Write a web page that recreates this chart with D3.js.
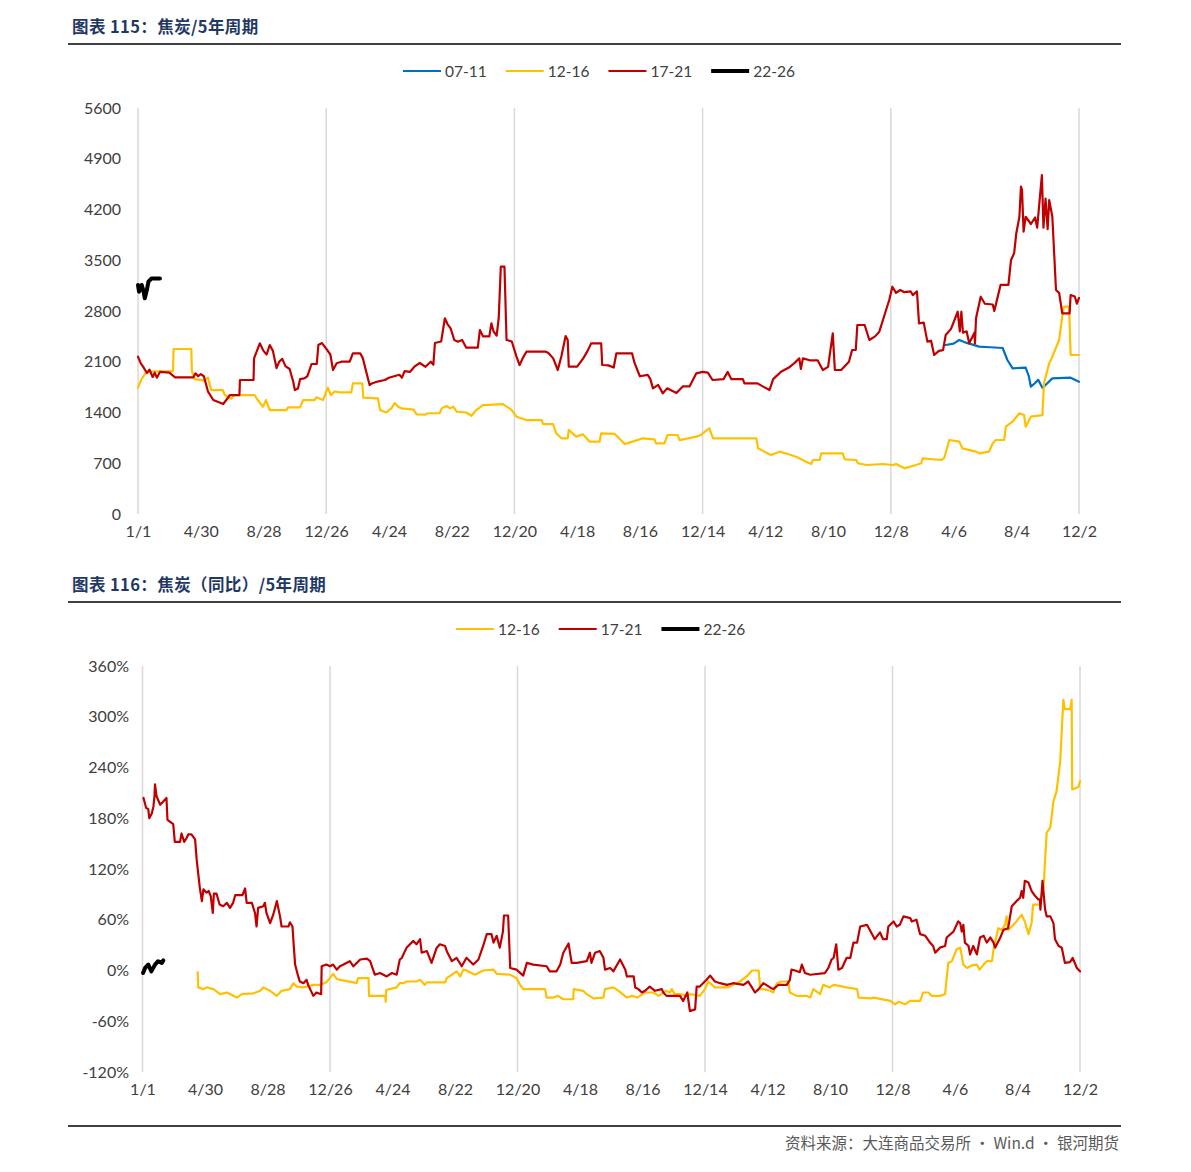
<!DOCTYPE html>
<html><head><meta charset="utf-8">
<script src="https://cdn.jsdelivr.net/npm/d3@7/dist/d3.min.js"></script>
<style>
html,body{margin:0;padding:0;background:#fff;}
svg{display:block;}
</style></head>
<body><svg id="chart" width="1191" height="1172"></svg>
<script>
// ---------- DATA ----------
const xTickDays = [0,120,240,360,480,600,720,840,960,1080,1200,1320,1440,1560,1680,1800];
const xTickLabels = ["1/1","4/30","8/28","12/26","4/24","8/22","12/20","4/18","8/16","12/14","4/12","8/10","12/8","4/6","8/4","12/2"];
const yearGridDays = [0,360,720,1080,1440,1800];
const priceTicks = [0,700,1400,2100,2800,3500,4200,4900,5600];
const yoyTicks = [-120,-60,0,60,120,180,240,300,360];

// Chart 115: coke price, [day, value]
const price0711 = [[1545,2331],[1560,2350],[1571,2400],[1585,2360],[1595,2340],[1609,2308],[1630,2300],[1654,2290],[1663,2124],[1673,2009],[1698,2020],[1704,1900],[1708,1756],[1715,1800],[1722,1850],[1730,1740],[1736,1779],[1749,1871],[1784,1880],[1790,1860],[1800,1825]];
const price1216 = [[0,1742],[6,1848],[16,1963],[67,1970],[68,2276],[102,2276],[103,1972],[108,1860],[127,1840],[134,1880],[140,1710],[162,1710],[166,1641],[178,1590],[185,1641],[223,1641],[229,1572],[239,1480],[245,1572],[252,1434],[284,1434],[287,1470],[310,1470],[316,1572],[338,1572],[341,1610],[354,1572],[363,1742],[369,1641],[376,1690],[385,1678],[408,1678],[411,1802],[429,1802],[431,1604],[459,1595],[463,1434],[475,1400],[485,1460],[491,1530],[498,1480],[504,1457],[527,1440],[533,1375],[549,1370],[555,1390],[577,1390],[581,1457],[590,1490],[597,1457],[603,1480],[610,1410],[628,1400],[638,1355],[647,1434],[660,1503],[698,1515],[714,1440],[724,1342],[743,1296],[772,1296],[775,1240],[794,1240],[800,1113],[810,1044],[822,1044],[824,1160],[838,1067],[851,1100],[864,997],[883,997],[886,1113],[912,1104],[931,966],[940,985],[966,1044],[988,1030],[991,975],[1007,975],[1013,1090],[1032,1090],[1036,1020],[1068,1067],[1077,1090],[1087,1149],[1093,1182],[1100,1044],[1183,1044],[1186,906],[1198,860],[1211,814],[1227,860],[1243,828],[1259,790],[1278,722],[1288,690],[1291,745],[1304,745],[1307,837],[1348,837],[1352,754],[1374,745],[1377,700],[1393,676],[1425,690],[1444,676],[1450,690],[1466,630],[1488,676],[1498,699],[1501,768],[1536,745],[1542,768],[1552,1021],[1571,998],[1577,906],[1603,860],[1609,837],[1628,860],[1635,975],[1641,1021],[1657,1021],[1660,1204],[1673,1273],[1686,1389],[1695,1365],[1698,1204],[1708,1342],[1730,1365],[1733,1802],[1743,2078],[1749,2170],[1762,2400],[1768,2722],[1771,2860],[1781,2860],[1784,2193],[1800,2193]];
const price1721 = [[0,2170],[5,2080],[10,2030],[17,1945],[22,1990],[28,1890],[32,1950],[36,1880],[42,1960],[60,1950],[71,1885],[106,1885],[110,1940],[115,1900],[120,1930],[126,1900],[134,1687],[144,1572],[163,1517],[176,1641],[194,1641],[195,1848],[221,1848],[222,2147],[233,2354],[240,2250],[246,2200],[252,2330],[258,2250],[265,2013],[270,2100],[276,2140],[282,2040],[290,2000],[297,1825],[300,1710],[306,1730],[310,1860],[318,1870],[324,1900],[332,2069],[342,2069],[345,2331],[352,2358],[360,2280],[368,2200],[373,1986],[380,2080],[389,2101],[405,2101],[411,2216],[425,2216],[430,2150],[443,1779],[447,1800],[460,1830],[472,1848],[480,1880],[490,1900],[500,1920],[505,1880],[510,1970],[520,1960],[530,2040],[539,2083],[550,2030],[560,2100],[565,2060],[568,2358],[580,2380],[587,2700],[592,2620],[598,2560],[605,2400],[612,2377],[620,2400],[628,2294],[650,2294],[654,2538],[660,2450],[672,2450],[676,2630],[680,2520],[686,2460],[690,2700],[694,3411],[701,3411],[705,2400],[715,2380],[724,2170],[730,2055],[736,2150],[743,2239],[780,2239],[785,2220],[794,2150],[803,1986],[810,2180],[818,2455],[822,2400],[824,2032],[840,2032],[852,2150],[860,2250],[867,2354],[886,2354],[888,2055],[900,2050],[910,2020],[915,2216],[945,2216],[950,2080],[960,1900],[975,1920],[980,1860],[985,1733],[995,1780],[1004,1664],[1012,1733],[1030,1670],[1042,1760],[1055,1760],[1068,1940],[1080,1960],[1090,1950],[1099,1848],[1120,1860],[1128,1960],[1135,1860],[1157,1860],[1160,1802],[1185,1802],[1195,1760],[1208,1710],[1215,1860],[1230,1963],[1245,2020],[1255,2078],[1265,2147],[1268,2000],[1272,2147],[1285,2120],[1300,2120],[1310,1986],[1320,2030],[1329,2492],[1333,1986],[1345,1986],[1360,2100],[1366,2262],[1373,2262],[1376,2607],[1390,2607],[1399,2400],[1410,2450],[1418,2515],[1431,2814],[1437,2952],[1443,3135],[1450,3050],[1458,3090],[1466,3060],[1478,3070],[1482,3020],[1490,3070],[1494,2630],[1503,2640],[1510,2377],[1517,2390],[1523,2193],[1532,2250],[1540,2260],[1545,2469],[1555,2550],[1568,2790],[1572,2520],[1575,2790],[1578,2500],[1585,2520],[1590,2354],[1600,2500],[1601,2354],[1603,2700],[1612,2997],[1620,2900],[1635,2890],[1638,2800],[1643,2950],[1650,3159],[1665,3159],[1670,3504],[1676,3600],[1680,3870],[1686,4100],[1689,4515],[1691,4470],[1694,3895],[1698,4100],[1708,4000],[1716,4090],[1720,3950],[1729,4676],[1732,3950],[1736,4350],[1740,3930],[1743,4330],[1749,4100],[1756,3090],[1762,3050],[1768,2768],[1782,2768],[1784,3021],[1792,3000],[1796,2900],[1800,2980]];
const price2226 = [[0,3159],[2,3066],[7,3159],[10,3090],[13,2975],[17,3090],[20,3204],[26,3250],[42,3250]];

// Chart 116: coke YoY %, [day, value]
const yoy1216 = [[106,-2],[107,-20],[117,-22],[123,-20],[136,-22],[149,-28],[162,-26],[181,-32],[191,-28],[213,-27],[226,-24],[232,-20],[245,-24],[258,-30],[267,-24],[283,-22],[290,-15],[296,-19],[309,-20],[328,-17],[341,-17],[353,-14],[366,-4],[373,-10],[379,-11],[405,-14],[411,-15],[414,-9],[434,-9],[435,-30],[466,-30],[467,-37],[468,-23],[488,-20],[494,-15],[501,-15],[507,-13],[526,-13],[533,-11],[542,-17],[546,-14],[581,-14],[584,-9],[594,-5],[603,-1],[610,-7],[616,1],[622,0],[638,-5],[654,0],[674,1],[680,-4],[706,-5],[718,-9],[725,-17],[731,-22],[773,-22],[776,-32],[789,-32],[798,-30],[808,-34],[827,-34],[828,-22],[846,-24],[853,-28],[866,-33],[885,-32],[888,-22],[904,-20],[914,-24],[930,-32],[940,-30],[950,-32],[965,-26],[981,-26],[991,-30],[1004,-24],[1013,-26],[1016,-22],[1022,-28],[1032,-28],[1045,-30],[1051,-28],[1070,-30],[1080,-22],[1086,-13],[1099,-20],[1124,-20],[1134,-17],[1147,-13],[1160,-7],[1170,0],[1183,0],[1186,-22],[1192,-22],[1205,-24],[1211,-26],[1218,-15],[1227,-13],[1240,-13],[1243,-26],[1256,-30],[1275,-30],[1282,-32],[1288,-22],[1301,-28],[1307,-17],[1320,-20],[1327,-17],[1352,-20],[1372,-22],[1375,-32],[1398,-33],[1404,-32],[1436,-36],[1445,-40],[1452,-37],[1464,-40],[1474,-36],[1493,-36],[1499,-26],[1509,-26],[1515,-30],[1531,-30],[1541,-28],[1547,9],[1554,11],[1563,25],[1570,27],[1576,7],[1583,3],[1592,6],[1602,7],[1607,1],[1615,7],[1621,11],[1631,11],[1634,25],[1643,50],[1650,48],[1656,54],[1659,64],[1662,48],[1669,52],[1678,58],[1688,66],[1694,58],[1701,43],[1707,56],[1710,78],[1723,78],[1730,98],[1736,163],[1743,169],[1749,200],[1755,212],[1762,247],[1768,320],[1771,309],[1781,309],[1784,320],[1785,214],[1797,217],[1800,224]];
const yoy1721 = [[2,204],[7,192],[11,191],[13,180],[18,186],[21,194],[23,206],[24,220],[27,206],[34,196],[46,204],[48,178],[59,173],[62,152],[72,152],[75,162],[80,152],[85,157],[88,161],[94,161],[101,155],[104,131],[110,98],[114,82],[117,96],[123,92],[127,94],[131,88],[135,68],[137,91],[142,91],[148,78],[155,76],[162,80],[168,74],[174,80],[178,89],[192,89],[197,97],[200,80],[210,80],[216,68],[219,52],[222,74],[232,76],[235,80],[238,68],[245,56],[251,66],[258,82],[264,64],[267,52],[280,52],[283,57],[288,52],[290,33],[293,7],[299,-7],[302,-13],[309,-15],[315,-11],[318,-17],[328,-30],[334,-26],[343,-28],[344,5],[353,7],[360,5],[366,7],[373,1],[379,5],[386,7],[398,11],[405,5],[418,13],[431,14],[437,11],[446,-5],[456,-3],[469,-7],[479,-3],[488,-5],[494,13],[498,15],[507,27],[520,35],[526,31],[533,37],[536,21],[546,23],[555,9],[565,27],[571,31],[581,29],[584,23],[594,11],[603,15],[613,5],[622,15],[635,7],[645,13],[654,29],[661,43],[670,43],[674,33],[680,41],[686,27],[692,46],[694,65],[702,65],[706,3],[718,1],[731,-6],[738,9],[750,7],[776,5],[782,-1],[795,-1],[802,7],[808,21],[818,32],[824,9],[834,9],[853,11],[859,21],[862,9],[869,21],[878,23],[885,15],[888,1],[898,3],[904,-1],[917,13],[927,1],[930,-7],[943,-7],[946,-20],[952,-22],[959,-26],[965,-24],[974,-19],[984,-24],[997,-22],[1000,-26],[1006,-30],[1032,-30],[1038,-36],[1046,-26],[1051,-48],[1061,-46],[1064,-19],[1070,-19],[1083,-11],[1090,-6],[1099,-13],[1109,-15],[1122,-17],[1134,-15],[1154,-17],[1163,-13],[1170,-20],[1176,-26],[1183,-22],[1192,-15],[1205,-20],[1211,-22],[1221,-17],[1237,-17],[1243,-11],[1246,1],[1253,0],[1262,-2],[1266,7],[1272,-3],[1282,-5],[1310,-3],[1317,3],[1323,13],[1327,15],[1332,31],[1336,1],[1343,3],[1352,15],[1359,15],[1365,33],[1372,33],[1378,52],[1391,54],[1406,37],[1416,45],[1422,37],[1429,37],[1432,52],[1442,58],[1448,52],[1454,54],[1461,64],[1474,62],[1477,58],[1486,60],[1493,43],[1503,41],[1512,33],[1518,29],[1522,21],[1531,27],[1541,29],[1544,39],[1557,46],[1566,58],[1570,56],[1573,46],[1576,54],[1579,33],[1586,29],[1589,19],[1595,29],[1602,19],[1608,39],[1615,41],[1621,33],[1628,39],[1634,33],[1637,27],[1647,39],[1653,48],[1662,50],[1669,76],[1678,82],[1685,86],[1688,94],[1691,86],[1694,106],[1701,104],[1707,94],[1714,88],[1720,84],[1723,84],[1724,72],[1728,106],[1730,92],[1733,72],[1736,64],[1743,64],[1749,56],[1752,37],[1759,29],[1765,27],[1771,9],[1781,10],[1786,15],[1794,3],[1800,-1]];
const yoy2226 = [[1,-3],[5,3],[11,7],[17,-1],[24,7],[30,11],[37,9],[40,12]];

const colors = {"07-11":"#0070C0","12-16":"#FFC000","17-21":"#C00000","22-26":"#000000"};

// ---------- DRAW ----------
const svg = d3.select("#chart");
const cjk = "'Noto Sans CJK SC','Noto Sans',sans-serif";
const numFont = "Lato,'Open Sans',sans-serif";

function header(title, y){
  svg.append("text").attr("x",72).attr("y",y).attr("font-family",cjk).attr("font-weight","bold")
    .attr("font-size",16.5).attr("letter-spacing",0.4).attr("fill","#1F3864").text(title);
  svg.append("line").attr("x1",68).attr("x2",1121).attr("y1",y+11).attr("y2",y+11)
    .attr("stroke","#000").attr("stroke-width",1.3);
}
header("图表 115：焦炭/5年周期", 33);
header("图表 116：焦炭（同比）/5年周期", 591);

function legend(items, startX, y){
  let x = startX;
  items.forEach(it=>{
    svg.append("line").attr("x1",x).attr("x2",x+38).attr("y1",y).attr("y2",y)
      .attr("stroke",colors[it]).attr("stroke-width",it==="22-26"?4:2);
    const t = svg.append("text").attr("x",x+42).attr("y",y+5.5).attr("font-family",numFont)
      .attr("font-size",15.5).attr("fill","#404040").text(it);
    x += 42 + t.node().getComputedTextLength() + 19;
  });
}
legend(["07-11","12-16","17-21","22-26"], 403, 71);
legend(["12-16","17-21","22-26"], 456, 629);

function panel(cfg){
  const x = d3.scaleLinear().domain([0,1800]).range(cfg.xRange);
  const y = d3.scaleLinear().domain(cfg.yDomain).range([cfg.yBottom, cfg.yTop]);
  const g = svg.append("g");
  // year gridlines
  g.selectAll("line.grid").data(yearGridDays).enter().append("line")
    .attr("x1",d=>x(d)).attr("x2",d=>x(d)).attr("y1",cfg.yTop).attr("y2",cfg.yBottom)
    .attr("stroke","#D9D9D9").attr("stroke-width",1.5);
  // y axis
  const ya = d3.axisLeft(y).tickValues(cfg.yTicks).tickSize(0).tickPadding(0).tickFormat(cfg.yFmt);
  const yg = g.append("g").attr("transform",`translate(${cfg.yLabelX},0)`).call(ya);
  yg.select(".domain").remove();
  yg.selectAll("text").attr("font-family",numFont).attr("font-size",16).attr("fill","#404040");
  // x axis
  const xa = d3.axisBottom(x).tickValues(xTickDays).tickSize(0).tickPadding(0)
    .tickFormat((d,i)=>xTickLabels[i]);
  const xg = g.append("g").attr("transform",`translate(0,${cfg.xLabelY})`).call(xa);
  xg.select(".domain").remove();
  xg.selectAll("text").attr("font-family",numFont).attr("font-size",16).attr("fill","#404040");
  // lines
  const line = d3.line().x(d=>x(d[0])).y(d=>y(d[1]));
  cfg.series.forEach(s=>{
    g.append("path").datum(s.data).attr("d",line).attr("fill","none")
      .attr("stroke",colors[s.name]).attr("stroke-width",s.name==="22-26"?4:2.2)
      .attr("stroke-linejoin","round").attr("stroke-linecap","round");
  });
}

panel({xRange:[138,1079], yDomain:[0,5600], yTop:108, yBottom:514, yTicks:priceTicks,
  yFmt:d=>String(d), yLabelX:121, xLabelY:526,
  series:[{name:"07-11",data:price0711},{name:"12-16",data:price1216},{name:"17-21",data:price1721},{name:"22-26",data:price2226}]});

panel({xRange:[142.5,1080], yDomain:[-120,360], yTop:666, yBottom:1072, yTicks:yoyTicks,
  yFmt:d=>d+"%", yLabelX:129, xLabelY:1084,
  series:[{name:"12-16",data:yoy1216},{name:"17-21",data:yoy1721},{name:"22-26",data:yoy2226}]});

// footer
svg.append("line").attr("x1",68).attr("x2",1121).attr("y1",1126).attr("y2",1126)
  .attr("stroke","#000").attr("stroke-width",1.3);
svg.append("text").attr("x",1119).attr("y",1149).attr("text-anchor","end")
  .attr("font-family",cjk).attr("font-size",15.5).attr("fill","#595959")
  .text("资料来源：大连商品交易所 · Win.d · 银河期货");
</script></body></html>
